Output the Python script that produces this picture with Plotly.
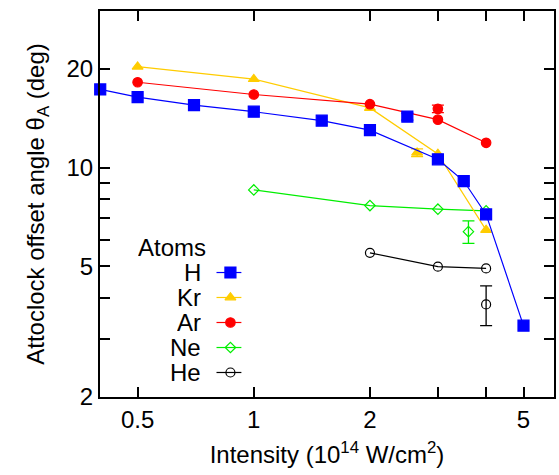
import plotly.graph_objects as go

# ---- data ----
h_x = [0.4, 0.5, 0.7, 1.0, 1.5, 2.0, 3.0, 3.5, 4.0, 5.0]
h_y = [17.3, 16.4, 15.5, 14.8, 13.9, 13.0, 10.6, 9.1, 7.2, 3.3]
h_ex_x = [2.5]; h_ex_y = [14.3]; h_ex_err = [0.35]

kr_x = [0.5, 1.0, 2.0, 3.0, 4.0]
kr_y = [20.3, 18.6, 15.2, 11.0, 6.45]
kr_ex_x = [2.65]; kr_ex_y = [11.1]; kr_ex_err = [0.3]

ar_x = [0.5, 1.0, 2.0, 3.0, 4.0]
ar_y = [18.2, 16.7, 15.6, 14.0, 11.9]
ar_ex_x = [3.0]; ar_ex_y = [15.1]; ar_ex_err = [0.4]

ne_x = [1.0, 2.0, 3.0, 4.0]
ne_y = [8.55, 7.66, 7.47, 7.38]
ne_ex_x = [3.6]; ne_ex_y = [6.38]; ne_ex_err = [0.5]

he_x = [2.0, 3.0, 4.0]
he_y = [5.5, 4.99, 4.93]
he_ex_x = [4.0]; he_ex_y = [3.83]; he_ex_err = [0.53]

names = ["H", "Kr", "Ar", "Ne", "He"]
x_tickvals = [0.5, 1, 2, 5]
x_ticktext = ["0.5", "1", "2", "5"]
x_minor = [3, 4]
y_tickvals = [2, 5, 10, 20]
y_ticktext = ["2", "5", "10", "20"]
y_minor = [3, 4, 6, 7, 8, 9, 30]

FONT = "Liberation Sans, Arial, Helvetica, sans-serif"
FS = 24

styles = {
    "H": dict(color="#0000ff", symbol="square", size=11),
    "Kr": dict(color="#ffcc00", symbol="triangle-up", size=9.5),
    "Ar": dict(color="#ff0000", symbol="circle", size=9.5),
    "Ne": dict(color="#00ee00", symbol="diamond-open", size=8),
    "He": dict(color="#000000", symbol="circle-open", size=9),
}

series = {
    "H": (h_x, h_y, h_ex_x, h_ex_y, h_ex_err),
    "Kr": (kr_x, kr_y, kr_ex_x, kr_ex_y, kr_ex_err),
    "Ar": (ar_x, ar_y, ar_ex_x, ar_ex_y, ar_ex_err),
    "Ne": (ne_x, ne_y, ne_ex_x, ne_ex_y, ne_ex_err),
    "He": (he_x, he_y, he_ex_x, he_ex_y, he_ex_err),
}

fig = go.Figure()
for nm in ["He", "Ne", "Kr", "Ar", "H"]:
    xs, ys, exx, exy, exe = series[nm]
    st = styles[nm]
    mk = dict(color=st["color"], symbol=st["symbol"], size=st["size"],
              line=dict(color=st["color"], width=1.2))
    fig.add_trace(go.Scatter(x=xs, y=ys, mode="lines+markers", name=nm,
                             line=dict(color=st["color"], width=1.2),
                             marker=mk, showlegend=False, cliponaxis=False))
    fig.add_trace(go.Scatter(x=exx, y=exy, mode="markers", name=nm + " exp",
                             marker=mk, showlegend=False, cliponaxis=False,
                             error_y=dict(type="data", array=exe, visible=True,
                                          color=st["color"], thickness=1.3, width=6)))

# custom legend (gnuplot style: text then sample)
leg_rows_y = [0.3225, 0.2578, 0.1930, 0.1282, 0.0635]
for nm, yy in zip(names, leg_rows_y):
    st = styles[nm]
    fig.add_trace(go.Scatter(x=[0.2566, 0.3114], y=[yy, yy], mode="lines",
                             line=dict(color=st["color"], width=1.2),
                             xaxis="x2", yaxis="y2", showlegend=False, hoverinfo="skip"))
    fig.add_trace(go.Scatter(x=[0.2873], y=[yy], mode="markers",
                             marker=dict(color=st["color"], symbol=st["symbol"], size=st["size"],
                                         line=dict(color=st["color"], width=1.2)),
                             xaxis="x2", yaxis="y2", showlegend=False, hoverinfo="skip"))
    fig.add_annotation(x=0.2259, y=yy, xref="paper", yref="paper", text=nm,
                       showarrow=False, xanchor="right", yanchor="middle", height=23,
                       font=dict(family=FONT, size=FS, color="black"))
fig.add_annotation(x=0.158, y=0.3873, xref="paper", yref="paper", text="Atoms",
                   showarrow=False, xanchor="center", yanchor="middle", height=23,
                   font=dict(family=FONT, size=FS, color="black"))

axis_common = dict(showline=True, linecolor="black", linewidth=2, mirror="ticks",
                   ticks="inside", ticklen=10, tickwidth=1.5, tickcolor="black",
                   showgrid=False, zeroline=False,
                   tickfont=dict(family=FONT, size=FS, color="black"))

fig.update_layout(
    width=559, height=475,
    margin=dict(l=100, r=3, t=11, b=78),
    paper_bgcolor="white", plot_bgcolor="white",
    font=dict(family=FONT, size=FS, color="black"),
    xaxis=dict(type="log", range=[-0.3985, 0.778], tickvals=x_tickvals, ticktext=x_ticktext,
               minor=dict(tickvals=x_minor, ticks="inside", ticklen=10, tickwidth=1.5,
                          tickcolor="black", showgrid=False),
               title=dict(text="Intensity (10<sup>14</sup> W/cm<sup>2</sup>)",
                          font=dict(family=FONT, size=FS), standoff=14),
               **axis_common),
    yaxis=dict(type="log", range=[0.30103, 1.4771], tickvals=y_tickvals, ticktext=y_ticktext,
               minor=dict(tickvals=y_minor, ticks="inside", ticklen=10, tickwidth=1.5,
                          tickcolor="black", showgrid=False),
               title=dict(text="Attoclock offset angle θ<sub>A</sub> (deg)",
                          font=dict(family=FONT, size=FS), standoff=15),
               **axis_common),
    xaxis2=dict(range=[0, 1], overlaying="x", visible=False, fixedrange=True),
    yaxis2=dict(range=[0, 1], overlaying="y", visible=False, fixedrange=True),
)
fig.write_html("out.html")
